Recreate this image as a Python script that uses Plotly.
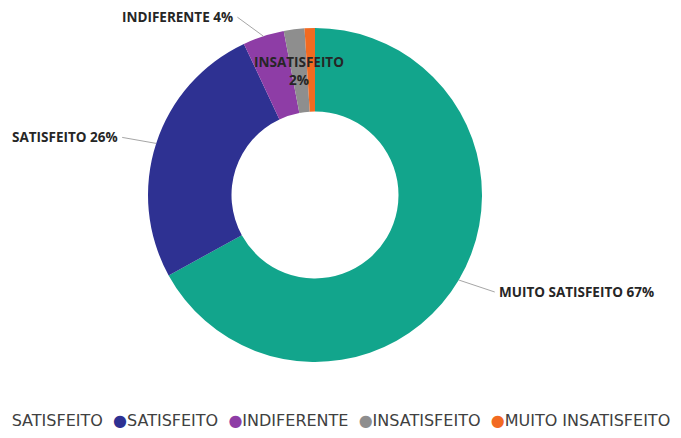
import math
import plotly.graph_objects as go

# ---- data ----
categories = ["MUITO SATISFEITO", "SATISFEITO", "INDIFERENTE", "INSATISFEITO", "MUITO INSATISFEITO"]
values = [67, 26, 4, 2, 1]

# ---- styles ----
colors = ["#12A58C", "#2E3192", "#8E3DA6", "#8E8E8E", "#F26A21"]
OFF = 8  # page body margin of the browser
W, H = 681 - 2 * OFF, 438 - 2 * OFF
CX, CY, R = 315 - OFF, 195 - OFF, 167
HOLE = 0.5
LABEL_FONT = dict(family="Open Sans", size=13.5, color="#262626", weight="bold")
LEGEND_FONT = dict(family="DejaVu Sans", size=16, color="#404040")
# label placement per slice: (dx, dy, xanchor) in pixels relative to slice edge; "inside" = inside ring; None = no label
label_style = {0: (36, 12, "left"), 1: (-34, -6, "right"), 2: (-26, -19, "right"), 3: "inside", 4: None}

total = sum(values)


def slice_point(i, radius):
    frac = (sum(values[:i]) + values[i] / 2) / total
    ang = 2 * math.pi * frac
    return CX + radius * math.sin(ang), CY - radius * math.cos(ang)


def to_paper(px, py):
    return px / W, 1 - py / H


fig = go.Figure(
    go.Pie(
        labels=categories,
        values=values,
        hole=HOLE,
        sort=False,
        direction="clockwise",
        rotation=0,
        marker=dict(colors=colors, line=dict(width=0)),
        textinfo="none",
        hoverinfo="label+percent",
        showlegend=False,
        domain=dict(x=[(CX - R) / W, (CX + R) / W], y=[1 - (CY + R) / H, 1 - (CY - R) / H]),
    )
)

annotations = []
for i, (cat, v) in enumerate(zip(categories, values)):
    st = label_style.get(i)
    if st is None:
        continue
    pct = round(v / total * 100)
    if st == "inside":
        px, py = slice_point(i, R * (1 + HOLE) / 2)
        x, y = to_paper(px, py)
        annotations.append(dict(x=x, y=y, xref="paper", yref="paper", text=f"{cat}<br>{pct}%",
                                showarrow=False, font=LABEL_FONT, xanchor="center", yanchor="middle"))
    else:
        dx, dy, xa = st
        px, py = slice_point(i, R)
        x, y = to_paper(px, py)
        annotations.append(dict(x=x, y=y, xref="paper", yref="paper", text=f"{cat} {pct}%",
                                showarrow=True, arrowhead=0, arrowwidth=1, arrowcolor="#A6A6A6",
                                ax=dx, ay=dy, xanchor=xa, yanchor="middle", borderpad=3,
                                font=LABEL_FONT))

GAP = "\u00a0" * 2
legend_text = GAP.join(
    f'<span style="color:{c}">●</span>{cat}' for cat, c in zip(categories, colors)
)
annotations.append(dict(x=(672 - OFF) / W, y=1 - (420 - OFF) / H, xref="paper", yref="paper",
                        text=legend_text, showarrow=False, xanchor="right", yanchor="middle",
                        font=LEGEND_FONT))

fig.update_layout(
    width=W, height=H,
    margin=dict(l=0, r=0, t=0, b=0, autoexpand=False),
    paper_bgcolor="white", plot_bgcolor="white",
    annotations=annotations,
    showlegend=False,
)

fig.write_html("out.html")
